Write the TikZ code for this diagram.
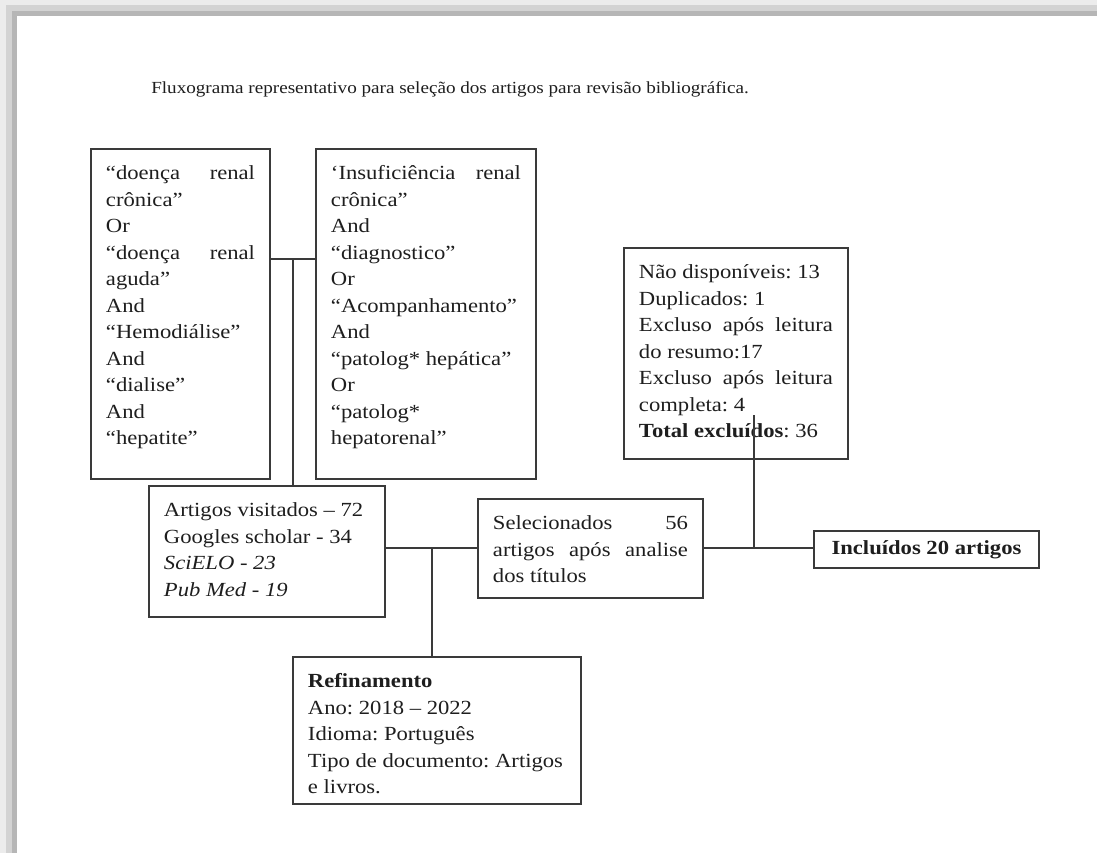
\documentclass[tikz,border=0pt]{standalone}
\usepackage{fontspec}
\setmainfont{Liberation Serif}[FakeStretch=1.13]
\frenchspacing
\definecolor{linha}{HTML}{3A3A3A}
\definecolor{texto}{HTML}{1E1E1E}
\definecolor{sombraA}{HTML}{ECECEC}
\definecolor{sombraB}{HTML}{D3D3D3}
\definecolor{sombraC}{HTML}{B6B6B6}
\newlength\pxu
\setlength\pxu{0.709pt}

\begin{document}
\begin{tikzpicture}[
    x=0.709pt, y=-0.709pt,
    % Estilos das caixas
    caixa/.style={rectangle, draw=linha, line width=1.4pt, anchor=north west, inner xsep=15*0.709pt, inner ysep=12*0.709pt, text=texto, font=\fontsize{14.2pt}{18.8pt}\selectfont},
    caixafina/.style={caixa, inner ysep=0pt, minimum width=225*0.709pt, minimum height=37*0.709pt},
    % Estilos das conexoes
    conector/.style={draw=linha, line width=1.1pt},
    % Estilo do titulo
    titulo/.style={anchor=base west, inner sep=0pt, text=texto, font=\fontsize{12pt}{14pt}\selectfont}
]

% === FUNDO E SOMBRA DA PAGINA ===
\fill[white] (0,0) rectangle (1097,853);
\fill[sombraA] (0,0) rectangle (6,853);
\fill[sombraB] (6,5) rectangle (12,853);
\fill[sombraC] (12,11) rectangle (17,853);
\fill[sombraA] (0,0) rectangle (1097,5);
\fill[sombraB] (6,5) rectangle (1097,11);
\fill[sombraC] (12,11) rectangle (1097,16);

% === TITULO ===
\node[titulo] (titulo) at (151,93) {Fluxograma representativo para seleção dos artigos para revisão bibliográfica.};

% === TERMOS DE BUSCA ===
\node[caixa] (termosA) at (90,148) {\begin{minipage}[t][306\pxu][t]{149\pxu}\strut
    “doença\hfill renal\\
    crônica”\\
    Or\\
    “doença\hfill renal\\
    aguda”\\
    And\\
    “Hemodiálise”\\
    And\\
    “dialise”\\
    And\\
    “hepatite”
    \end{minipage}};
\node[caixa] (termosB) at (315,148) {\begin{minipage}[t][306\pxu][t]{190\pxu}\strut
    ‘Insuficiência\hfill renal\\
    crônica”\\
    And\\
    “diagnostico”\\
    Or\\
    “Acompanhamento”\\
    And\\
    “patolog* hepática”\\
    Or\\
    “patolog*\\
    hepatorenal”
    \end{minipage}};

% === ARTIGOS VISITADOS E REFINAMENTO ===
\node[caixa] (visitados) at (148,485) {\begin{minipage}[t][107\pxu][t]{206\pxu}\strut
    Artigos visitados – 72\\
    Googles scholar - 34\\
    \textit{SciELO - 23}\\
    \textit{Pub Med - 19}
    \end{minipage}};
\node[caixa] (refinamento) at (292,656) {\begin{minipage}[t][123\pxu][t]{258\pxu}\strut
    \textbf{Refinamento}\\
    Ano: 2018 – 2022\\
    Idioma: Português\\
    Tipo de documento: Artigos\\
    e livros.
    \end{minipage}};

% === SELECAO, EXCLUSAO E INCLUSAO ===
\node[caixa] (selecionados) at (477,498) {\begin{minipage}[t][75\pxu][t]{195\pxu}\strut
    Selecionados\hfill 56\\
    artigos\hfill após\hfill analise\\
    dos títulos
    \end{minipage}};
\node[caixa] (excluidos) at (623,247) {\begin{minipage}[t][187\pxu][t]{194\pxu}\strut
    Não disponíveis: 13\\
    Duplicados: 1\\
    Excluso\hfill após\hfill leitura\\
    do resumo:17\\
    Excluso\hfill após\hfill leitura\\
    completa: 4\\
    \textbf{Total excluídos}: 36
    \end{minipage}};
\node[caixafina] (incluidos) at (813,530) {\textbf{Incluídos 20 artigos}};

% === CONEXOES ===
\coordinate (j1) at (293,259);
\coordinate (j2) at (432,548);
\coordinate (j3) at (754,548);
\coordinate (fimexcl) at (754,415);

\draw[conector] (termosA.east |- j1) -- (termosB.west |- j1);
\draw[conector] (j1) -- (j1 |- visitados.north);
\draw[conector] (visitados.east |- j2) -- (selecionados.west |- j2);
\draw[conector] (j2) -- (j2 |- refinamento.north);
\draw[conector] (selecionados.east |- j3) -- (incluidos.west |- j3);
\draw[conector] (j3) -- (fimexcl);

\end{tikzpicture}
\end{document}
